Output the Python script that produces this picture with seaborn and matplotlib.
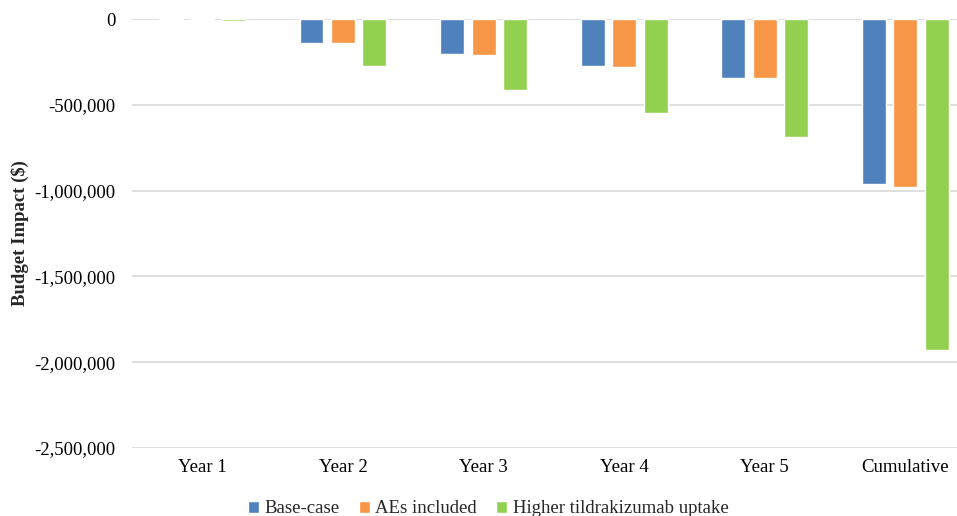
import matplotlib
matplotlib.use("Agg")
import matplotlib.pyplot as plt
import matplotlib.ticker as mticker
import seaborn as sns
import pandas as pd

categories = ["Year 1", "Year 2", "Year 3", "Year 4", "Year 5", "Cumulative"]
series_names = ["Base-case", "AEs included", "Higher tildrakizumab uptake"]
base_case = [-5000, -138000, -204000, -272000, -342000, -961000]
aes_included = [-5000, -140000, -210000, -278000, -346000, -979000]
higher_uptake = [-10000, -274000, -411000, -546000, -686000, -1927000]
colors = ["#4F81BD", "#F79646", "#92D050"]
y_ticks = [0, -500000, -1000000, -1500000, -2000000, -2500000]

rows = []
for name, vals in zip(series_names, [base_case, aes_included, higher_uptake]):
    for c, v in zip(categories, vals):
        rows.append({"Category": c, "Series": name, "Value": v})
df = pd.DataFrame(rows)

sns.set_theme(style="white")
plt.rcParams["font.family"] = ["Liberation Serif", "DejaVu Serif"]

fig = plt.figure(figsize=(9.57, 5.16), dpi=100)
ax = fig.add_axes([0.138, 0.132, 0.8815, 0.831])

sns.barplot(data=df, x="Category", y="Value", hue="Series", order=categories,
            hue_order=series_names, palette=colors, saturation=1, width=0.672,
            gap=0.24, errorbar=None, ax=ax, legend=True, zorder=3)

ax.set_ylim(-2500000, 0)
ax.set_yticks(y_ticks)
ax.yaxis.set_major_formatter(mticker.FuncFormatter(lambda v, p: f"{int(v):,}"))
ax.grid(axis="y", color="#d9d9d9", linewidth=1.2, zorder=0)
ax.set_axisbelow(True)
for s in ax.spines.values():
    s.set_visible(False)
ax.tick_params(axis="both", length=0, labelsize=13.5, colors="black")
ax.tick_params(axis="y", pad=12)
ax.tick_params(axis="x", pad=8)
ax.set_xlabel("")
ax.set_ylabel("Budget Impact ($)", fontsize=13.5, fontweight="bold", labelpad=4)

handles, labels = ax.get_legend_handles_labels()
ax.get_legend().remove()
fig.legend(handles, labels, loc="lower center", bbox_to_anchor=(0.51, -0.035),
           ncol=3, frameon=False, fontsize=13.5, handlelength=0.6,
           handleheight=0.6, handletextpad=0.3, columnspacing=1.0)

fig.savefig("out.png", dpi=100)
